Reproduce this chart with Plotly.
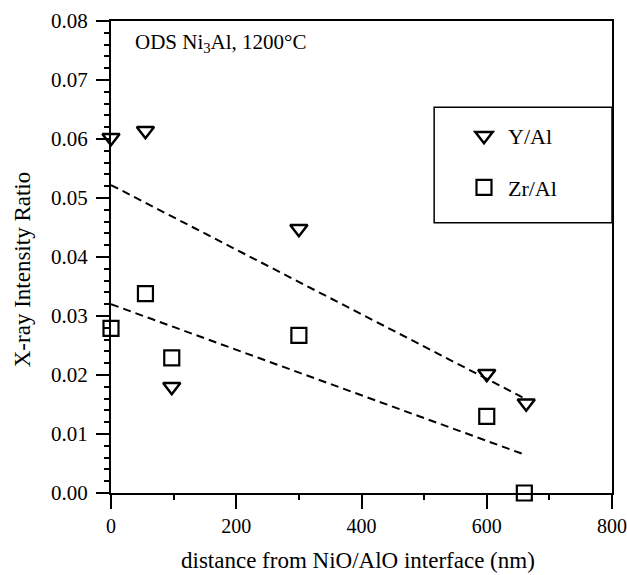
import plotly.graph_objects as go

# data
dist_y = [0, 55, 97, 300, 600, 663]
ratio_y = [0.0602, 0.0614, 0.0180, 0.0448, 0.0202, 0.0152]
dist_zr = [0, 55, 97, 300, 600, 660]
ratio_zr = [0.0279, 0.0338, 0.0229, 0.0267, 0.0130, 0.0000]
fit_x = [0, 663]
fit_y_y = [0.0522, 0.0159]
fit_x_zr = [0, 658]
fit_y_zr = [0.0320, 0.0066]
x_ticks = [0, 200, 400, 600, 800]

FONT = "Liberation Serif"

fig = go.Figure()
fig.add_trace(go.Scatter(x=fit_x, y=fit_y_y, mode="lines", showlegend=False,
                         line=dict(color="black", width=2, dash="8px,5px")))
fig.add_trace(go.Scatter(x=fit_x_zr, y=fit_y_zr, mode="lines", showlegend=False,
                         line=dict(color="black", width=2, dash="8px,5px")))
fig.add_trace(go.Scatter(x=dist_y, y=ratio_y, mode="markers", name="Y/Al",
                         cliponaxis=False, legendgroup="a",
                         marker=dict(symbol="triangle-down-open", size=15, color="black",
                                     line=dict(width=2.5, color="black"))))
fig.add_trace(go.Scatter(x=dist_zr, y=ratio_zr, mode="markers", name="Zr/Al",
                         cliponaxis=False, legendgroup="b",
                         marker=dict(symbol="square", size=15, color="white",
                                     line=dict(width=2.2, color="black"))))

fig.add_shape(type="rect", xref="x", yref="y", x0=516, x1=800, y0=0.0458, y1=0.0654,
              line=dict(color="black", width=1.5), fillcolor="rgba(0,0,0,0)", layer="below")

fig.add_annotation(x=0.044, y=0.953, xref="paper", yref="paper", xanchor="left",
                   yanchor="middle", showarrow=False,
                   text="ODS Ni<sub>3</sub>Al, 1200°C",
                   font=dict(family=FONT, size=21, color="black"))
fig.add_annotation(x=0.494, y=-0.144, xref="paper", yref="paper", xanchor="center",
                   yanchor="middle", showarrow=False,
                   text="distance from NiO/AlO interface (nm)",
                   font=dict(family=FONT, size=23, color="black"))
fig.add_annotation(x=-0.1776, y=0.472, xref="paper", yref="paper", xanchor="center",
                   yanchor="middle", showarrow=False, textangle=-90,
                   text="X-ray Intensity Ratio",
                   font=dict(family=FONT, size=23, color="black"))

fig.update_layout(
    width=627, height=575,
    margin=dict(l=111, r=15, t=21, b=82),
    paper_bgcolor="white", plot_bgcolor="white",
    font=dict(family=FONT, size=20, color="black"),
    showlegend=True,
    legend=dict(x=0.6966, y=0.801, xanchor="left", yanchor="top",
                bgcolor="rgba(0,0,0,0)", borderwidth=0,
                font=dict(family=FONT, size=22), tracegroupgap=20,
                itemwidth=38, itemsizing="trace"),
    xaxis=dict(range=[0, 800], tickvals=x_ticks, automargin=False,
               ticks="outside", ticklen=14, tickwidth=2, tickcolor="black",
               tickfont=dict(family=FONT, size=20),
               showline=True, linewidth=2, linecolor="black", mirror=True,
               showgrid=False, zeroline=False,
               minor=dict(dtick=100, ticks="outside", ticklen=5, tickwidth=2,
                          tickcolor="black", showgrid=False)),
    yaxis=dict(range=[0, 0.08], dtick=0.01, tickformat=".2f", automargin=False,
               ticks="outside", ticklen=13, tickwidth=2, tickcolor="black",
               tickfont=dict(family=FONT, size=21), ticklabelstandoff=4,
               showline=True, linewidth=2, linecolor="black", mirror=True,
               showgrid=False, zeroline=False,
               minor=dict(dtick=0.002, ticks="outside", ticklen=5, tickwidth=2,
                          tickcolor="black", showgrid=False)),
)

fig.write_html("out.html")
